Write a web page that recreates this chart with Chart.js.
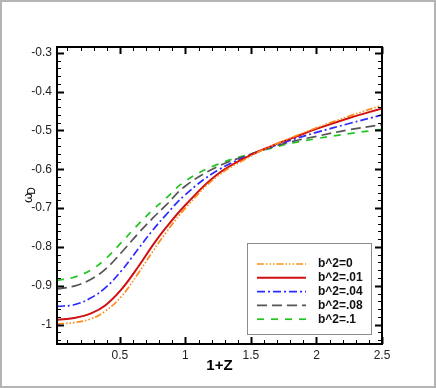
<!DOCTYPE html>
<html>
<head>
<meta charset="utf-8">
<script src="https://cdn.jsdelivr.net/npm/chart.js@4.4.1/dist/chart.umd.min.js"></script>
<style>
  html, body { margin: 0; padding: 0; background: #fff; }
  #wrap { width: 436px; height: 388px; }
</style>
</head>
<body>
<div id="wrap"><canvas id="myChart" width="436" height="388"></canvas></div>
<script>
// 1+Z sample positions
var zVals = [0.02, 0.15, 0.28, 0.39, 0.51, 0.64, 0.75, 0.85, 1.0, 1.24, 1.5, 1.65, 1.82, 2.0, 2.25, 2.5];

// omega_D for each b^2
var wB0   = [-0.998, -0.995, -0.985, -0.965, -0.928, -0.868, -0.812, -0.764, -0.700, -0.619, -0.566, -0.541, -0.517, -0.493, -0.463, -0.435];
var wB01  = [-0.988, -0.983, -0.971, -0.950, -0.910, -0.851, -0.796, -0.751, -0.692, -0.614, -0.563, -0.541, -0.519, -0.496, -0.468, -0.443];
var wB04  = [-0.953, -0.949, -0.931, -0.905, -0.862, -0.805, -0.757, -0.718, -0.665, -0.604, -0.562, -0.543, -0.523, -0.505, -0.482, -0.460];
var wB08  = [-0.908, -0.901, -0.883, -0.857, -0.815, -0.765, -0.726, -0.693, -0.643, -0.594, -0.561, -0.544, -0.528, -0.515, -0.498, -0.485];
var wB1   = [-0.886, -0.878, -0.859, -0.831, -0.789, -0.742, -0.705, -0.675, -0.630, -0.588, -0.560, -0.546, -0.532, -0.521, -0.508, -0.497];

var seriesNames = ['b^2=0', 'b^2=.01', 'b^2=.04', 'b^2=.08', 'b^2=.1'];

// tick labels
var xTicks = [0.5, 1, 1.5, 2, 2.5];
var yTicks = [-1, -0.9, -0.8, -0.7, -0.6, -0.5, -0.4, -0.3];

function pts(ys) {
    return zVals.map(function(z, i){ return {x: z, y: ys[i]}; });
}

var styles = [
    {color: '#ff8a1a', dash: [7, 2, 1.5, 2, 1.5, 2, 1.5, 2], width: 1.7},
    {color: '#d01010', dash: [], width: 2},
    {color: '#2a2aff', dash: [8, 3, 2, 3], width: 1.7},
    {color: '#555555', dash: [10, 5], width: 1.7},
    {color: '#22c422', dash: [7, 7], width: 1.7}
];
var allSeries = [wB0, wB01, wB04, wB08, wB1];

var datasets = allSeries.map(function(s, i){
    return {
        label: seriesNames[i],
        data: pts(s),
        borderColor: styles[i].color,
        borderDash: styles[i].dash,
        borderWidth: styles[i].width,
        pointRadius: 0,
        fill: false,
        tension: 0.4
    };
});

var tickFont = {family: 'Liberation Sans, Arial, sans-serif', size: 12};

/* cadre, petites graduations, titres et legende */
var frame = {
    id: 'frame',
    afterDraw: function(chart) {
        var ctx = chart.ctx, a = chart.chartArea;
        var xs = chart.scales.x, ys = chart.scales.y;
        ctx.save();

        // outer grey border
        ctx.strokeStyle = '#b4b4b4';
        ctx.lineWidth = 2;
        ctx.strokeRect(1, 1, 434, 386);

        // inward ticks on four sides
        ctx.strokeStyle = '#000';
        var i, v, p;
        for (i = 1; i <= 25; i++) {
            v = i / 10;
            p = Math.round(xs.getPixelForValue(v)) + 0.5;
            var major = (i % 5 === 0);
            var len = major ? 7 : 4;
            ctx.lineWidth = major ? 2 : 1;
            ctx.beginPath();
            ctx.moveTo(p, a.bottom); ctx.lineTo(p, a.bottom - len);
            ctx.moveTo(p, a.top); ctx.lineTo(p, a.top + len);
            ctx.stroke();
        }
        for (i = -52; i <= -14; i++) {
            v = i / 50;
            if (v < ys.min || v > ys.max) continue;
            p = Math.round(ys.getPixelForValue(v)) + 0.5;
            var maj = (i % 5 === 0);
            var l = maj ? 7 : 4;
            ctx.lineWidth = maj ? 2 : 1;
            ctx.beginPath();
            ctx.moveTo(a.left, p); ctx.lineTo(a.left + l, p);
            ctx.moveTo(a.right, p); ctx.lineTo(a.right - l, p);
            ctx.stroke();
        }

        // plot box
        ctx.lineWidth = 2;
        ctx.strokeRect(a.left, a.top, a.right - a.left, a.bottom - a.top);

        // axis titles
        ctx.fillStyle = '#000';
        ctx.font = 'bold 15px Liberation Sans, Arial, sans-serif';
        ctx.textAlign = 'center';
        ctx.textBaseline = 'middle';
        ctx.fillText('1+Z', (a.left + a.right) / 2 + 0, 366);

        ctx.save();
        ctx.translate(28, 194);
        ctx.rotate(-Math.PI / 2);
        ctx.font = '13px Liberation Sans, Arial, sans-serif';
        ctx.textAlign = 'left';
        ctx.fillText('\u03c9', -9, 0);
        ctx.font = '10px Liberation Sans, Arial, sans-serif';
        ctx.fillText('D', -0.5, 4);
        ctx.restore();

        // legend
        var lx = 247, ly = 243, lw = 124, lh = 91;
        ctx.fillStyle = '#fff';
        ctx.fillRect(lx, ly, lw, lh);
        ctx.strokeStyle = '#8c8c8c';
        ctx.lineWidth = 1;
        ctx.strokeRect(lx + 0.5, ly + 0.5, lw, lh);
        ctx.font = 'bold 12px Liberation Sans, Arial, sans-serif';
        ctx.textAlign = 'left';
        ctx.textBaseline = 'middle';
        for (i = 0; i < seriesNames.length; i++) {
            var yy = 264 + i * 13.8;
            ctx.strokeStyle = styles[i].color;
            ctx.lineWidth = styles[i].width;
            ctx.setLineDash(styles[i].dash);
            ctx.beginPath();
            ctx.moveTo(257, yy); ctx.lineTo(306, yy);
            ctx.stroke();
            ctx.setLineDash([]);
            ctx.fillStyle = '#111';
            ctx.fillText(seriesNames[i], 318, yy);
        }
        ctx.restore();
    }
};

var ctx = document.getElementById('myChart').getContext('2d');
var myChart = new Chart(ctx, {
    type: 'line',
    data: {datasets: datasets},
    options: {
        responsive: false,
        animation: false,
        layout: {padding: {left: 0, right: 54, top: 47, bottom: 0}},
        plugins: {legend: {display: false}, tooltip: {enabled: false}},
        scales: {
            x: {
                type: 'linear',
                min: 0.02, max: 2.5,
                grid: {display: false, drawTicks: false},
                border: {display: false},
                afterFit: function(s){ s.height = 44; },
                afterBuildTicks: function(s){ s.ticks = xTicks.map(function(v){ return {value: v}; }); },
                ticks: {
                    padding: 4, color: '#222', font: tickFont, maxRotation: 0, autoSkip: false,
                    callback: function(v){ return String(v); }
                }
            },
            y: {
                type: 'linear',
                min: -1.05, max: -0.285,
                grid: {display: false, drawTicks: false},
                border: {display: false},
                afterFit: function(s){ s.width = 57; },
                afterBuildTicks: function(s){ s.ticks = yTicks.map(function(v){ return {value: v}; }); },
                ticks: {
                    padding: 5, color: '#222', font: tickFont, autoSkip: false,
                    callback: function(v){ return String(Math.round(v * 10) / 10); }
                }
            }
        }
    },
    plugins: [frame]
});
</script>
</body>
</html>
